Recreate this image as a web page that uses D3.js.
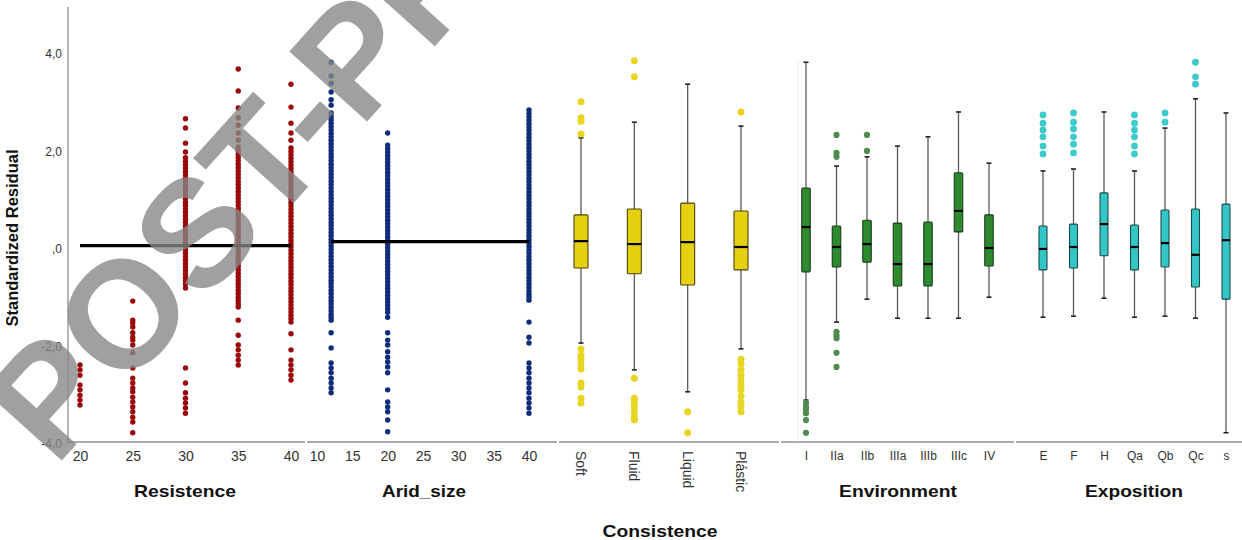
<!DOCTYPE html>
<html>
<head>
<meta charset="utf-8">
<script src="https://cdn.jsdelivr.net/npm/d3@7"></script>
<style>
  body { margin: 0; background: #fff; }
  svg { display: block; }
  text { font-family: Arial, "Liberation Sans", sans-serif; }
</style>
</head>
<body>
<svg id="chart" width="1242" height="540"></svg>
<script>
// ---- Y axis -------------------------------------------------------------
const yTicks = [-4, -2, 0, 2, 4];
const yTickLabels = ["-4,0", "-2,0", ",0", "2,0", "4,0"];

// ---- Resistence: residuals per level -----------------------------------
const resistenceTicks = [20, 25, 30, 35, 40];
const res20 = [-2.42, -2.52, -2.63, -2.83, -2.93, -3.04, -3.14, -3.24];
const res25 = [-1.11, -1.50, -1.56, -1.64, -1.76, -1.85, -1.91, -2.01, -2.17, -2.48, -2.69,
  -2.79, -2.89, -2.97, -3.08, -3.18, -3.28, -3.38, -3.49, -3.59, -3.81];
const res30 = [2.63, 2.44, 2.13, 1.95, 1.83, 1.76, 1.69, 1.62, 1.55, 1.48, 1.41, 1.34, 1.27,
  1.20, 1.13, 1.06, 0.99, 0.92, 0.85, 0.78, 0.71, 0.64, 0.57, 0.50, 0.43, 0.36, 0.29, 0.22,
  0.15, 0.08, 0.01, -0.06, -0.13, -0.20, -0.27, -0.34, -0.41, -0.48, -0.55, -0.62, -0.69,
  -0.76, -0.84, -2.48, -2.79, -2.99, -3.10, -3.20, -3.30, -3.41];
const res35 = [3.65, 3.20, 2.85, 2.65, 2.50, 2.34, 2.19, 2.05, 1.98, 1.91, 1.84, 1.77, 1.70,
  1.63, 1.56, 1.49, 1.42, 1.35, 1.28, 1.21, 1.14, 1.07, 1.00, 0.93, 0.86, 0.79, 0.72, 0.65,
  0.58, 0.51, 0.44, 0.37, 0.30, 0.23, 0.16, 0.09, 0.02, -0.05, -0.12, -0.19, -0.26, -0.33,
  -0.40, -0.47, -0.54, -0.61, -0.68, -0.75, -0.82, -0.89, -0.96, -1.03, -1.10, -1.17, -1.23,
  -1.50, -1.81, -2.01, -2.11, -2.22, -2.32, -2.42];
const res40 = [3.34, 2.87, 2.54, 2.34, 2.19, 2.03, 1.96, 1.89, 1.82, 1.75, 1.68, 1.61, 1.54,
  1.47, 1.40, 1.33, 1.26, 1.19, 1.12, 1.05, 0.98, 0.91, 0.84, 0.77, 0.70, 0.63, 0.56, 0.49,
  0.42, 0.35, 0.28, 0.21, 0.14, 0.07, 0.00, -0.07, -0.14, -0.21, -0.28, -0.35, -0.42, -0.49,
  -0.56, -0.63, -0.70, -0.77, -0.84, -0.91, -0.98, -1.05, -1.12, -1.19, -1.26, -1.33, -1.40,
  -1.47, -1.54, -1.78, -2.11, -2.32, -2.42, -2.52, -2.63, -2.73];
const resistenceFit = [[20, 0.03], [40, 0.03]];

// ---- Arid_size: residuals per level ------------------------------------
const aridTicks = [10, 15, 20, 25, 30, 35, 40];
const arid12 = [3.79, 3.51, 3.36, 3.18, 3.02, 2.91, 2.75, 2.68, 2.61, 2.54, 2.47, 2.40, 2.33,
  2.26, 2.19, 2.12, 2.05, 1.98, 1.91, 1.84, 1.77, 1.70, 1.63, 1.56, 1.49, 1.42, 1.35, 1.28,
  1.21, 1.14, 1.07, 1.00, 0.93, 0.86, 0.79, 0.72, 0.65, 0.58, 0.51, 0.44, 0.37, 0.30, 0.23,
  0.16, 0.09, 0.02, -0.05, -0.12, -0.19, -0.26, -0.33, -0.40, -0.47, -0.54, -0.61, -0.68,
  -0.75, -0.82, -0.89, -0.96, -1.03, -1.10, -1.17, -1.24, -1.31, -1.38, -1.44, -1.50,
  -1.76, -2.07, -2.38, -2.48, -2.58, -2.69, -2.79, -2.89, -2.99];
const arid20 = [2.34, 2.09, 2.02, 1.95, 1.88, 1.81, 1.74, 1.67, 1.60, 1.53, 1.46, 1.39, 1.32,
  1.25, 1.18, 1.11, 1.04, 0.97, 0.90, 0.83, 0.76, 0.69, 0.62, 0.55, 0.48, 0.41, 0.34, 0.27,
  0.20, 0.13, 0.06, -0.01, -0.08, -0.15, -0.22, -0.29, -0.36, -0.43, -0.50, -0.57, -0.64,
  -0.71, -0.78, -0.85, -0.92, -0.99, -1.06, -1.13, -1.20, -1.27, -1.34, -1.44,
  -1.76, -1.91, -2.01, -2.15, -2.26, -2.36, -2.46, -2.58, -2.93, -3.18, -3.28, -3.38, -3.55, -3.79];
const arid40 = [2.81, 2.74, 2.67, 2.60, 2.53, 2.46, 2.39, 2.32, 2.25, 2.18, 2.11, 2.04, 1.97,
  1.90, 1.83, 1.76, 1.69, 1.62, 1.55, 1.48, 1.41, 1.34, 1.27, 1.20, 1.13, 1.06, 0.99, 0.92,
  0.85, 0.78, 0.71, 0.64, 0.57, 0.50, 0.43, 0.36, 0.29, 0.22, 0.15, 0.08, 0.01, -0.06, -0.13,
  -0.20, -0.27, -0.34, -0.41, -0.48, -0.55, -0.62, -0.69, -0.76, -0.83, -0.90, -0.97, -1.03,
  -1.09, -1.54, -1.85, -1.97, -2.38, -2.48, -2.58, -2.69, -2.79, -2.89, -2.99, -3.10, -3.20,
  -3.30, -3.41];
const aridFit = [[12, 0.11], [40, 0.11]];

// ---- Consistence boxplots ----------------------------------------------
const consCats = ["Soft", "Fluid", "Liquid", "Plástic"];
const consLo  = [-1.97, -2.52, -2.97, -2.09];
const consQ1  = [-0.43, -0.55, -0.78, -0.47];
const consMed = [0.12, 0.06, 0.10, 0.00];
const consQ3  = [0.66, 0.78, 0.90, 0.74];
const consHi  = [2.24, 2.56, 3.34, 2.48];
const consOut = [
  [2.98, 2.65, 2.58, 2.32, -2.09, -2.22, -2.30, -2.40, -2.50, -2.79, -2.87, -3.10, -3.20],
  [3.82, 3.49, -2.69, -3.10, -3.20, -3.28, -3.38, -3.49, -3.55],
  [-3.38, -3.81],
  [2.77, -2.30, -2.40, -2.52, -2.63, -2.73, -2.83, -2.93, -3.06, -3.18, -3.28, -3.38]
];

// ---- Environment boxplots ----------------------------------------------
const envCats = ["I", "IIa", "IIb", "IIIa", "IIIb", "IIIc", "IV"];
const envLo  = [-3.14, -1.54, -1.07, -1.46, -1.46, -1.46, -1.03];
const envQ1  = [-0.51, -0.41, -0.31, -0.80, -0.80, 0.31, -0.39];
const envMed = [0.41, 0.00, 0.06, -0.35, -0.35, 0.74, -0.02];
const envQ3  = [1.21, 0.43, 0.55, 0.49, 0.51, 1.52, 0.66];
const envHi  = [3.79, 1.66, 1.85, 2.07, 2.26, 2.77, 1.72];
const envOut = [
  [-3.20, -3.28, -3.34, -3.41, -3.55, -3.81],
  [2.30, 1.93, 1.85, -1.74, -1.81, -1.87, -2.17, -2.46],
  [2.30, 1.97],
  [], [], [], []
];

// ---- Exposition boxplots -----------------------------------------------
const expCats = ["E", "F", "H", "Qa", "Qb", "Qc", "s"];
const expLo  = [-1.44, -1.42, -1.05, -1.44, -1.42, -1.46, -3.81];
const expQ1  = [-0.47, -0.43, -0.18, -0.47, -0.41, -0.82, -1.07];
const expMed = [-0.04, 0.00, 0.47, 0.00, 0.08, -0.16, 0.14];
const expQ3  = [0.43, 0.47, 1.11, 0.45, 0.76, 0.78, 0.88];
const expHi  = [1.56, 1.60, 2.77, 1.56, 2.44, 3.04, 2.75];
const expOut = [
  [2.71, 2.54, 2.40, 2.26, 2.07, 1.91],
  [2.75, 2.56, 2.42, 2.26, 2.11, 1.93],
  [],
  [2.71, 2.54, 2.40, 2.26, 2.07, 1.91],
  [2.75, 2.56],
  [3.79, 3.49, 3.34],
  []
];

// ---- Drawing -----------------------------------------------------------
const svg = d3.select("#chart");
const y = d3.scaleLinear().domain([-4, 4]).range([442, 52]);
const axisY = 442;

// Left value axis
svg.append("line")
  .attr("x1", 68).attr("x2", 68).attr("y1", 7).attr("y2", axisY)
  .attr("stroke", "#8c8c8c").attr("stroke-width", 1.3);
svg.append("g").selectAll("text").data(yTicks).join("text")
  .attr("x", 62).attr("y", d => y(d) + 2)
  .attr("dy", "0.35em").attr("text-anchor", "end")
  .attr("font-size", 12).attr("fill", "#333")
  .text((d, i) => yTickLabels[i]);
svg.append("text")
  .attr("transform", "translate(18,238) rotate(-90)")
  .attr("text-anchor", "middle")
  .attr("font-size", 16).attr("font-weight", "bold").attr("fill", "#111")
  .attr("textLength", 177).attr("lengthAdjust", "spacingAndGlyphs")
  .text("Standardized Residual");

// Bottom baseline, one segment per panel
const panelSpans = [[68, 305], [307, 557], [559, 779], [781, 1014], [1016, 1242]];
svg.append("g").selectAll("line").data(panelSpans).join("line")
  .attr("x1", d => d[0]).attr("x2", d => d[1])
  .attr("y1", axisY).attr("y2", axisY)
  .attr("stroke", "#8c8c8c").attr("stroke-width", 1.3);

function bottomAxis(scale, ticks, fmt) {
  const g = svg.append("g").attr("transform", `translate(0,${axisY})`)
    .call(d3.axisBottom(scale).tickValues(ticks).tickSize(0).tickPadding(9)
      .tickFormat(fmt || (d => d)));
  g.select(".domain").remove();
  g.selectAll("text").attr("font-size", 14).attr("fill", "#333")
    .attr("font-family", "Arial, 'Liberation Sans', sans-serif");
  return g;
}

function panelTitle(text, cx, baseline, width) {
  svg.append("text")
    .attr("x", cx).attr("y", baseline).attr("text-anchor", "middle")
    .attr("font-size", 17).attr("font-weight", "bold").attr("fill", "#111")
    .attr("textLength", width).attr("lengthAdjust", "spacingAndGlyphs")
    .text(text);
}

// Scatter panel: dot columns plus fitted line
function scatterPanel(x, groups, fit, color) {
  const pts = groups.flatMap(([lvl, vals]) => vals.map(v => ({ x: lvl, v })));
  svg.append("g").selectAll("circle").data(pts).join("circle")
    .attr("cx", d => x(d.x)).attr("cy", d => y(d.v)).attr("r", 2.7)
    .attr("fill", color);
  svg.append("path")
    .attr("d", d3.line().x(d => x(d[0])).y(d => y(d[1]))(fit))
    .attr("stroke", "#000").attr("stroke-width", 3.2).attr("fill", "none");
}

const xRes = d3.scaleLinear().domain([20, 40]).range([80, 291]);
scatterPanel(xRes, [[20, res20], [25, res25], [30, res30], [35, res35], [40, res40]],
  resistenceFit, "#9b0a0a");
bottomAxis(xRes, resistenceTicks);
panelTitle("Resistence", 185, 497, 102);

const xArid = d3.scaleLinear().domain([10, 40]).range([317, 529]);
scatterPanel(xArid, [[12, arid12], [20, arid20], [40, arid40]], aridFit, "#102d7c");
bottomAxis(xArid, aridTicks);
panelTitle("Arid_size", 424, 497, 84);

// Boxplot panel
function boxPanel(cats, x, lo, q1, med, q3, hi, outs, opt) {
  const rows = cats.map((c, i) => ({ c, lo: lo[i], q1: q1[i], med: med[i], q3: q3[i], hi: hi[i], out: outs[i] }));
  const g = svg.append("g");
  const w = opt.boxW;
  // whiskers
  g.selectAll("line.wh").data(rows).join("line").attr("class", "wh")
    .attr("x1", d => x(d.c)).attr("x2", d => x(d.c))
    .attr("y1", d => y(d.hi)).attr("y2", d => y(d.lo))
    .attr("stroke", "#5a5a5a").attr("stroke-width", 1.3);
  // whisker caps
  const caps = rows.flatMap(d => [{ c: d.c, v: d.hi }, { c: d.c, v: d.lo }]);
  g.selectAll("line.cap").data(caps).join("line").attr("class", "cap")
    .attr("x1", d => x(d.c) - 2.5).attr("x2", d => x(d.c) + 2.5)
    .attr("y1", d => y(d.v)).attr("y2", d => y(d.v))
    .attr("stroke", "#222").attr("stroke-width", 1.6);
  // boxes
  g.selectAll("rect").data(rows).join("rect")
    .attr("x", d => x(d.c) - w / 2).attr("width", w)
    .attr("y", d => y(d.q3)).attr("height", d => y(d.q1) - y(d.q3))
    .attr("rx", 1)
    .attr("fill", opt.fill).attr("stroke", opt.stroke).attr("stroke-width", 1.1);
  // medians
  g.selectAll("line.med").data(rows).join("line").attr("class", "med")
    .attr("x1", d => x(d.c) - w / 2).attr("x2", d => x(d.c) + w / 2)
    .attr("y1", d => y(d.med)).attr("y2", d => y(d.med))
    .attr("stroke", "#000").attr("stroke-width", 2.2);
  // outliers
  const pts = rows.flatMap(d => d.out.map(v => ({ c: d.c, v })));
  g.selectAll("circle").data(pts).join("circle")
    .attr("cx", d => x(d.c)).attr("cy", d => y(d.v)).attr("r", opt.r)
    .attr("fill", opt.outFill);
}

// faint panel separator
svg.append("line").attr("x1", 798).attr("x2", 798).attr("y1", 60).attr("y2", axisY)
  .attr("stroke", "#ececec").attr("stroke-width", 1);

const xCons = d3.scalePoint().domain(consCats).range([581, 741]);
boxPanel(consCats, xCons, consLo, consQ1, consMed, consQ3, consHi, consOut,
  { boxW: 14, fill: "#e5d012", stroke: "#4a4410", outFill: "#e8d524", r: 3.5 });
svg.append("g").selectAll("text").data(consCats).join("text")
  .attr("transform", d => `translate(${xCons(d)},451) rotate(90)`)
  .attr("dy", "0.35em").attr("font-size", 14).attr("fill", "#333")
  .text(d => d);
panelTitle("Consistence", 660, 537, 115);

const xEnv = d3.scalePoint().domain(envCats).range([806, 989]);
boxPanel(envCats, xEnv, envLo, envQ1, envMed, envQ3, envHi, envOut,
  { boxW: 8.5, fill: "#2e8a2e", stroke: "#1d3d1d", outFill: "#4f8a4f", r: 3.1 });
bottomAxis(xEnv, envCats).selectAll("text").attr("font-size", 12);
panelTitle("Environment", 898, 497, 118);

const xExp = d3.scalePoint().domain(expCats).range([1043, 1226]);
boxPanel(expCats, xExp, expLo, expQ1, expMed, expQ3, expHi, expOut,
  { boxW: 8, fill: "#33c6c6", stroke: "#1d4a4a", outFill: "#3ccaca", r: 3.4 });
bottomAxis(xExp, expCats).selectAll("text").attr("font-size", 12);
panelTitle("Exposition", 1134, 497, 98);

// Diagonal watermark over the plot
svg.append("text")
  .attr("transform", "translate(55,468) rotate(-48)")
  .attr("font-size", 152).attr("font-weight", "bold")
  .attr("fill", "#868686").attr("fill-opacity", 0.79)
  .text("POST-PRINT");
</script>
</body>
</html>
